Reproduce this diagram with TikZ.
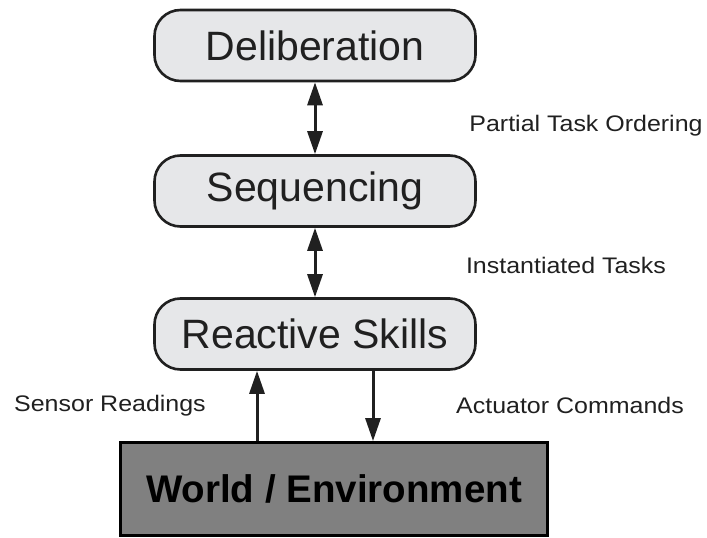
\documentclass[tikz,border=0pt]{standalone}
\usepackage{fontspec}
\setmainfont{Liberation Sans}
\newfontfamily\lblfont[FakeStretch=1.11]{Liberation Sans}
\usetikzlibrary{arrows.meta}
\definecolor{boxfill}{HTML}{E6E7E9}
\definecolor{worldfill}{HTML}{808080}
\definecolor{ink}{HTML}{202020}
\tikzset{
  layer/.style={draw=ink, line width=2.6pt, fill=boxfill, rounded corners=26pt,
    minimum width=321pt, minimum height=71pt, inner sep=0pt,
    font=\fontsize{41}{45}\selectfont, text=ink},
  worldbox/.style={draw=black, line width=2.8pt, fill=worldfill,
    minimum width=427pt, minimum height=93pt, inner sep=0pt,
    font=\fontsize{38.5}{42}\selectfont\bfseries, text=black},
  lbl/.style={font=\lblfont\fontsize{22.5}{26}\selectfont, text=ink, inner sep=0pt, anchor=base},
  dbl/.style={draw=ink, line width=3pt, {Triangle[length=23pt,width=15pt]}-{Triangle[length=23pt,width=15pt]}},
  arr/.style={draw=ink, line width=3pt, -{Triangle[length=23pt,width=15pt]}}
}
\begin{document}
\begin{tikzpicture}[x=1pt,y=-1pt]
\useasboundingbox (0,0) rectangle (707,538);
\node[layer] (delib) at (315,45.5) {Deliberation};
\node[layer] (seq) at (315,191) {Sequencing};
\node[layer] (react) at (315,334) {Reactive Skills};
\node[worldbox] (world) at (334,489) {World / Environment};
\coordinate (ux) at (257,400);
\coordinate (dx) at (373,400);
\draw[dbl] (delib.south) -- (seq.north);
\draw[dbl] (seq.south) -- (react.north);
\draw[arr] (ux |- world.north) -- (ux |- react.south);
\draw[arr] (dx |- react.south) -- (dx |- world.north);
\node[lbl] (pto) at (586,131) {Partial Task Ordering};
\node[lbl] (it) at (566,273) {Instantiated Tasks};
\node[lbl] (sr) at (110,411) {Sensor Readings};
\node[lbl] (ac) at (570,413) {Actuator Commands};
\end{tikzpicture}
\end{document}
